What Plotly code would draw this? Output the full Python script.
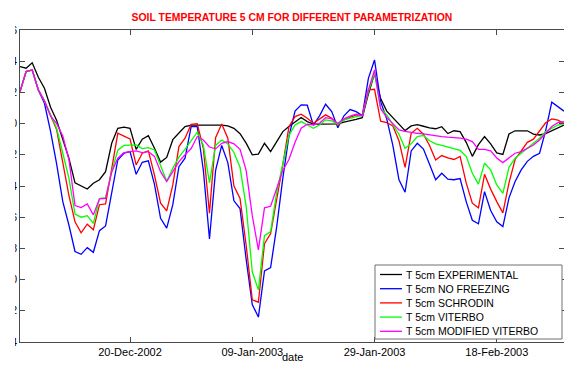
import pandas as pd
import plotly.graph_objects as go

# Daily soil temperature at 5 cm depth, 2 Dec 2002 - 1 Mar 2003
dates = pd.date_range("2002-12-02", "2003-03-01", freq="D")

t_experimental = [
    3.65, 3.55, 3.9, 2.97, 2.27, 1.05, 0.2, -1.04, -2.22, -3.8,
    -3.97, -4.19, -3.82, -3.6, -3.08, -1.26, -0.3, -0.23, -0.3, -1.65,
    -1.0, -0.78, -1.58, -2.47, -2.17, -1.03, -0.6, -0.19, -0.1, -0.1,
    -0.1, -0.1, -0.1, -0.1, -0.15, -0.3, -0.65, -1.25, -2.0, -1.96,
    -1.26, -1.8, -1.15, -0.51, -0.19, 0.09, 0.39, 0.13, -0.04, -0.04,
    -0.04, -0.04, -0.02, 0.1, 0.17, 0.27, 0.38, 1.9, 3.2, 1.6,
    0.8,
    0.4, -0.05, -0.45, -0.15, -0.07, -0.17, -0.28, -0.33, -0.2, -0.64,
    -0.46, -0.52, -1.2, -2.1, -1.35, -0.83, -1.3, -1.88, -1.98, -0.67,
    -0.46, -0.46, -0.46, -0.67, -0.73, -0.64, -0.44, -0.25,
    -0.09,
]

t_no_freezing = [
    2.05, 3.33, 3.44, 2.16, 1.3, -0.5, -2.6, -5.0, -6.5, -8.2,
    -8.38, -7.95, -8.25, -6.86, -6.56, -4.36, -2.33, -1.9, -1.79, -3.25,
    -2.48, -2.39, -3.9, -6.07, -6.7, -5.2, -2.76, -2.22, -0.2, -0.19,
    -3.0, -7.4, -3.0, -1.4, -2.5, -4.95, -5.45, -8.7, -11.6, -12.4,
    -9.44, -9.23, -6.6, -3.5, -0.8, 0.8, 1.2, 1.18, -0.1, 0.5,
    1.24, 0.77, -0.26, 0.5, 0.9, 0.77, 0.51, 2.9, 4.08, 1.41,
    0.3,
    -1.4, -3.6, -4.4, -1.75, -1.26, -1.63, -2.6, -3.6, -3.18, -3.56,
    -3.6, -3.52, -5.0, -6.2, -6.42, -4.36, -5.57, -6.3, -6.6, -4.76,
    -3.71, -2.97, -2.42, -2.1, -1.9, -0.45, 1.37, 1.06,
    0.8,
]

t_schrodin = [
    2.05, 3.33, 3.44, 2.16, 1.45, 0.5, -0.4, -2.5, -4.6, -6.3,
    -7.0, -6.45, -6.8, -5.2, -5.15, -2.9, -0.62, -0.8, -0.98, -2.65,
    -1.9, -1.75, -3.3, -5.1, -5.6, -3.93, -1.47, -0.94, -0.05, 0.0,
    -1.6, -5.75, -0.9, -0.03, -0.94, -4.0, -4.8, -7.8, -11.3, -11.45,
    -7.7, -7.05, -4.9, -2.65, -0.2, 0.45, 0.6, 0.34, 0.02, 0.28,
    0.56, 0.34, -0.09, 0.24, 0.42, 0.56, 0.51, 2.16, 2.2, 0.15,
    0.07,
    -0.15, -1.1, -2.8, -0.62, -0.3, -0.68, -1.4, -2.33, -2.05, -2.2,
    -2.3, -2.1, -3.8, -5.1, -5.4, -3.25, -4.2, -5.0, -5.72, -3.8,
    -2.3, -1.75, -1.2, -1.0, -0.5, 0.05, 0.3, 0.22,
    0.0,
]

t_viterbo = [
    2.05, 3.33, 3.44, 2.16, 1.45, 0.6, -0.3, -1.9, -3.5, -5.8,
    -6.0, -5.9, -6.4, -4.8, -4.75, -3.1, -1.7, -1.4, -1.4, -1.37,
    -1.6, -1.54, -1.69, -2.76, -3.7, -2.86, -2.15, -1.65, -1.1, -0.55,
    -1.4, -3.8, -1.4, -1.05, -1.3, -1.85, -2.8, -5.3, -9.5, -10.66,
    -7.18, -6.92, -4.4, -2.65, -0.75, -0.09, 0.13, -0.09, -0.3, -0.09,
    0.24, 0.17, -0.04, 0.24, 0.36, 0.45, 0.51, 2.05, 3.23, 0.98,
    0.56,
    -0.05, -0.68, -1.58, -1.3, -0.83, -0.76, -1.1, -1.3, -1.4, -1.52,
    -1.63, -1.72, -2.1, -3.18, -3.88, -2.54, -2.97, -3.93, -4.47, -2.8,
    -2.22, -1.9, -1.58, -1.26, -0.94, -0.51, -0.3, -0.09,
    0.0,
]

t_modified_viterbo = [
    2.05, 3.33, 3.44, 2.16, 1.45, 0.5, 0.0, -0.8, -2.3, -5.25,
    -5.38, -5.15, -5.85, -4.83, -4.79, -3.1, -2.22, -1.86, -1.79, -1.75,
    -1.86, -1.8, -2.1, -3.08, -3.72, -3.08, -2.44, -2.0, -1.6, -0.83,
    -1.05, -1.5, -1.62, -1.26, -1.15, -1.3, -1.65, -3.0, -5.9, -8.1,
    -5.4, -5.3, -4.2, -3.0, -2.3, -1.2, -0.3, -0.04, -0.09, 0.02,
    0.38, 0.3, 0.02, 0.3, 0.48, 0.6, 0.51, 2.16, 3.44, 0.95,
    0.4,
    0.0, -0.4, -0.5, -0.58, -0.62, -0.66, -0.73, -0.79, -0.83, -0.87,
    -0.88, -0.93, -1.0, -1.15, -1.65, -1.65, -1.75, -2.2, -2.5, -2.22,
    -1.9, -1.8, -1.58, -1.37, -1.05, -0.62, -0.19, 0.06,
    0.13,
]

series_names = [
    "T 5cm EXPERIMENTAL",
    "T 5cm NO FREEZING",
    "T 5cm SCHRODIN",
    "T 5cm VITERBO",
    "T 5cm MODIFIED VITERBO",
]
series_values = [t_experimental, t_no_freezing, t_schrodin, t_viterbo, t_modified_viterbo]
series_colors = ["#000000", "#0000ff", "#ff0000", "#00ff00", "#ff00ff"]

date_ticks = ["2002-12-20", "2003-01-09", "2003-01-29", "2003-02-18"]
temp_ticks = list(range(-14, 7, 2))

# figure geometry (pixels)
W, H = 564, 365
ML, MR, MT, MB = 20, 0, 30, 23
PW, PH = W - ML - MR, H - MT - MB


def px_x(px):
    return (px - ML) / PW


def px_y(py):
    return (H - MB - py) / PH


fig = go.Figure()
for name, vals, color in zip(series_names, series_values, series_colors):
    fig.add_trace(go.Scatter(
        x=dates, y=vals, name=name, mode="lines",
        line=dict(color=color, width=1.3),
    ))

axis_color = "#4a4a4a"
fig.update_xaxes(
    range=["2002-12-02", "2003-03-01"],
    tickvals=date_ticks, tickformat="%d-%b-%Y",
    ticks="inside", ticklen=5, tickcolor=axis_color,
    showline=True, linecolor=axis_color, linewidth=1, mirror="ticks",
    showgrid=False, zeroline=False,
    tickfont=dict(size=11, color="black"),
)
fig.update_yaxes(
    range=[-14, 6],
    tickvals=temp_ticks, ticktext=[str(v) for v in temp_ticks],
    ticks="inside", ticklen=5, tickcolor=axis_color,
    showline=True, linecolor=axis_color, linewidth=1, mirror="ticks",
    showgrid=False, zeroline=False,
    tickfont=dict(size=10, color="black"),
)

shapes = [
    # page edge trims the y tick labels
    dict(type="rect", xref="paper", yref="paper",
         x0=px_x(-2), x1=px_x(15), y0=px_y(H + 5), y1=px_y(-5),
         fillcolor="white", line=dict(width=0), layer="above"),
    # legend frame
    dict(type="rect", xref="paper", yref="paper",
         x0=px_x(375), x1=px_x(562), y0=px_y(339), y1=px_y(265),
         fillcolor="white", line=dict(color="#707070", width=1), layer="above"),
]
annotations = [
    dict(text="date", xref="paper", yref="paper", x=0.5, y=px_y(364),
         xanchor="center", yanchor="bottom", showarrow=False, borderpad=0,
         font=dict(size=11, color="black")),
]
for i, (name, color) in enumerate(zip(series_names, series_colors)):
    row_y = 274.5 + 14.2 * i
    shapes.append(dict(type="line", xref="paper", yref="paper",
                       x0=px_x(380), x1=px_x(402), y0=px_y(row_y), y1=px_y(row_y),
                       line=dict(color=color, width=1.3), layer="above"))
    annotations.append(dict(text=name, xref="paper", yref="paper",
                            x=px_x(404), y=px_y(row_y), xanchor="left", yanchor="middle",
                            showarrow=False, font=dict(size=10.5, color="black")))

fig.update_layout(
    width=W, height=H,
    margin=dict(l=ML, r=MR, t=MT, b=MB, pad=0),
    paper_bgcolor="white", plot_bgcolor="white",
    showlegend=False,
    font=dict(family="Liberation Sans, Arial, sans-serif", size=11, color="black"),
    title=dict(
        text="<b>SOIL TEMPERATURE 5 CM FOR DIFFERENT PARAMETRIZATION</b>",
        x=0.5, xref="paper", xanchor="center",
        y=1 - 17 / H, yref="container", yanchor="middle",
        font=dict(size=10.4, color="#ff0000"),
    ),
    shapes=shapes,
    annotations=annotations,
)

fig.write_html("out.html", config={"displayModeBar": False})
